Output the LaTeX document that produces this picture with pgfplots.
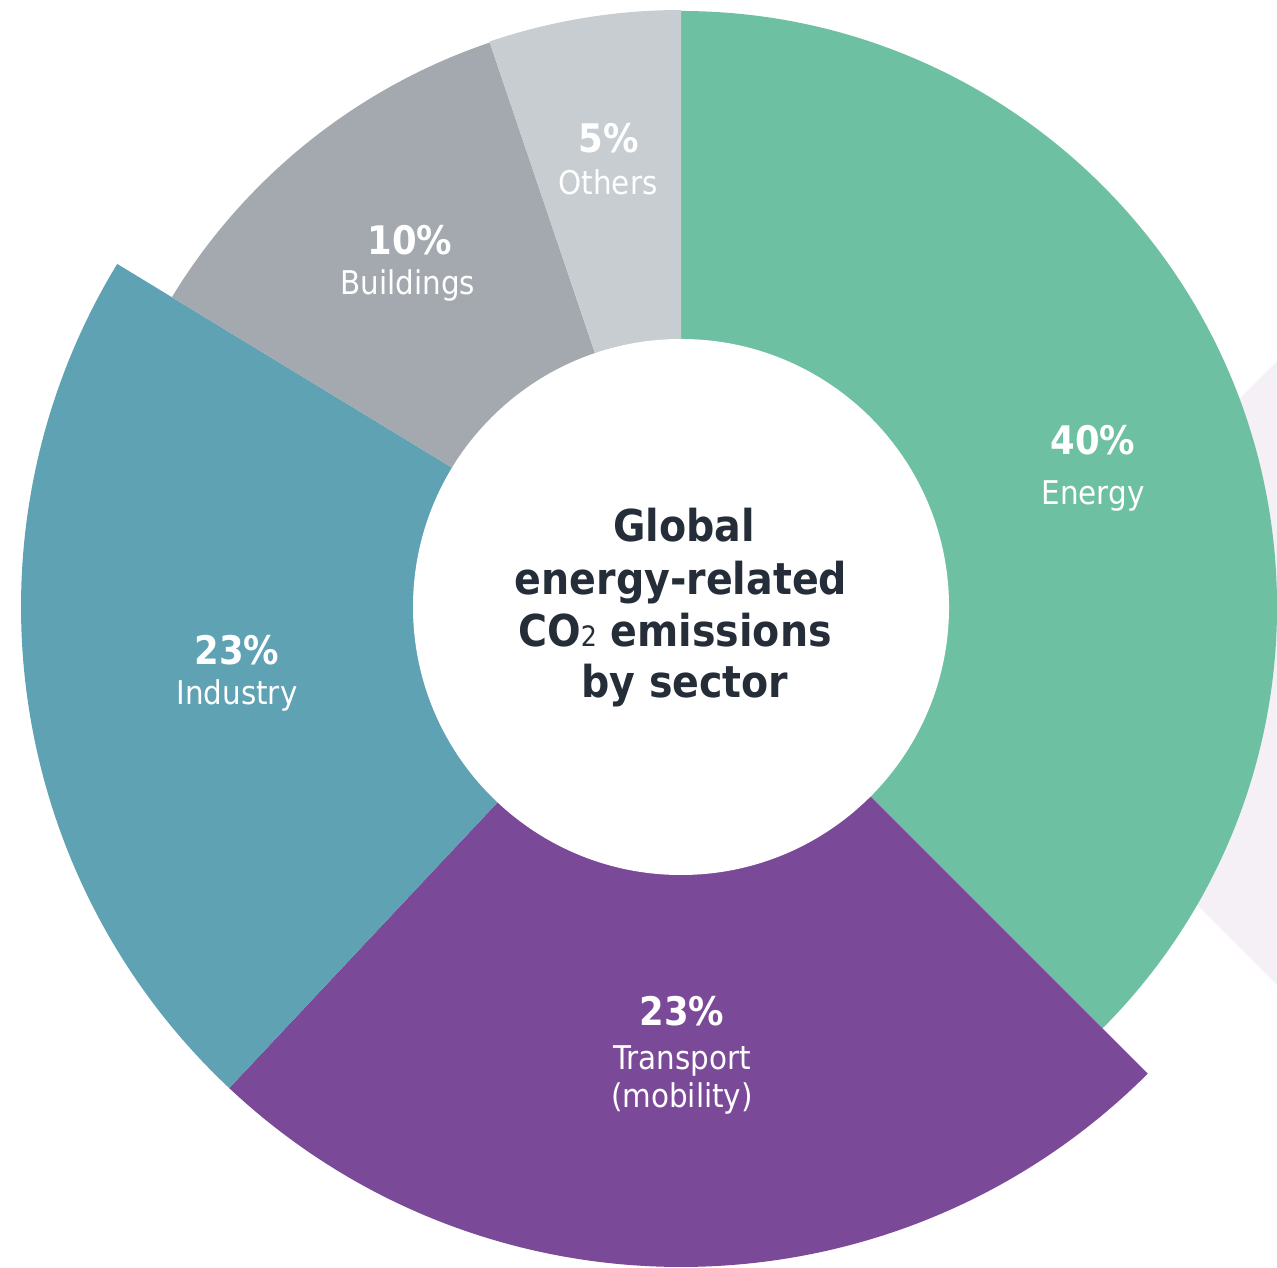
\documentclass[border=0pt]{standalone}
\usepackage{pgfplots}
\pgfplotsset{compat=1.18}
\usepackage{fontspec}
\setmainfont{DejaVuSansCondensed}[Extension=.ttf, BoldFont=DejaVuSansCondensed-Bold]
\definecolor{cEnergy}{HTML}{6EC0A3}
\definecolor{cTransport}{HTML}{7A4A98}
\definecolor{cIndustry}{HTML}{5EA2B4}
\definecolor{cBuildings}{HTML}{A3A9AF}
\definecolor{cOthers}{HTML}{C8CDD1}
\definecolor{cLav}{HTML}{F4F0F6}
\definecolor{cTitle}{HTML}{252E38}
\newcommand{\pct}[1]{{\fontsize{11.2}{13}\selectfont\bfseries #1}}
\newcommand{\nm}[1]{{\fontsize{9.3}{11}\selectfont #1}}
\begin{document}
\begin{tikzpicture}
\begin{axis}[hide axis, scale only axis, width=12.77cm, height=12.67cm,
  xmin=-681, xmax=596, ymin=-660, ymax=607, clip=true]
% background decoration
\addplot[draw=none, fill=cLav] coordinates {(284,-66) (784,434) (1284,-66) (784,-566)} -- cycle;
% sectors: share (percent of circle, as drawn), outer radius (cm), colour
\foreach \v/\r/\c [remember=\e as \s (initially 90)] in
  {37.5/5.96/cEnergy, 24.5/6.60/cTransport, 21.7/6.60/cIndustry, 11.1/5.96/cBuildings, 5.2/5.97/cOthers}{
  \pgfmathsetmacro\e{\s-3.6*\v}
  \edef\temp{\noexpand\fill[\c] (axis cs:0,0) -- ++(\s:\r cm) arc[start angle=\s, end angle=\e, radius=\r cm] -- cycle;}
  \temp
}
\fill[white] (axis cs:0,0) circle[radius=2.68cm];
% labels
\begin{scope}[every node/.style={anchor=base, inner sep=0pt, text=white}]
\node at (axis cs:412,152) {\pct{40\%}};
\node at (axis cs:412,102) {\nm{Energy}};
\node at (axis cs:1,-418) {\pct{23\%}};
\node at (axis cs:1,-462) {\nm{Transport}};
\node at (axis cs:1,-500) {\nm{(mobility)}};
\node at (axis cs:-444,-58) {\pct{23\%}};
\node at (axis cs:-444,-98) {\nm{Industry}};
\node at (axis cs:-271,352) {\pct{10\%}};
\node at (axis cs:-273,312) {\nm{Buildings}};
\node at (axis cs:-72,454) {\pct{5\%}};
\node at (axis cs:-73,412) {\nm{Others}};
\end{scope}
\begin{scope}[every node/.style={anchor=base, inner sep=0pt, text=cTitle, font=\fontsize{12.5}{15}\selectfont\bfseries}]
\node at (axis cs:3,65) {Global};
\node at (axis cs:0,12) {energy-related};
\node at (axis cs:-6,-40) {CO{\fontsize{8}{9}\selectfont\mdseries 2} emissions};
\node at (axis cs:4,-91) {by sector};
\end{scope}
\end{axis}
\pgfresetboundingbox
\path (current axis.south west) rectangle (current axis.north east);
\end{tikzpicture}
\end{document}
